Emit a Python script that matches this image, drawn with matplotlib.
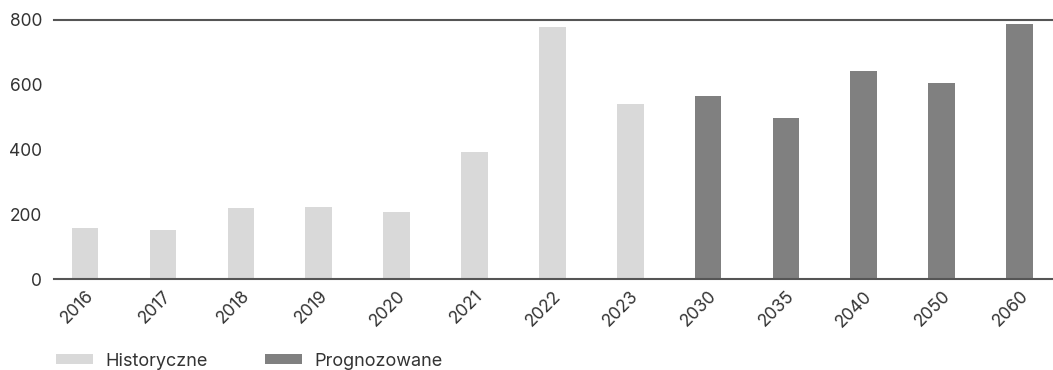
import matplotlib
matplotlib.use("Agg")
import matplotlib.pyplot as plt
from matplotlib.patches import Patch

plt.rcParams['font.family'] = ['Inter', 'DejaVu Sans']

years = ["2016", "2017", "2018", "2019", "2020", "2021", "2022", "2023",
         "2030", "2035", "2040", "2050", "2060"]
values = [157, 153, 219, 223, 207, 392, 777, 539,
          565, 498, 641, 605, 786]
is_forecast = [False] * 8 + [True] * 5

label_hist = "Historyczne"
label_fore = "Prognozowane"
color_hist = "#d9d9d9"
color_fore = "#808080"
text_color = "#333333"
line_color = "#555555"

fig = plt.figure(figsize=(10.53, 3.70), dpi=100)
ax = fig.add_axes([54 / 1053, 1 - 279.3 / 370, 1 - 54 / 1053, 259.6 / 370])

x = list(range(len(years)))
colors = [color_fore if f else color_hist for f in is_forecast]
ax.bar(x, values, width=0.343, color=colors, edgecolor="none")

ax.set_xlim(-0.40, len(years) - 1 + 0.43)
ax.set_ylim(0, 800)
ax.set_yticks([0, 200, 400, 600, 800])
ax.set_xticks(x)
ax.set_xticklabels(years, rotation=45, ha="right", va="top",
                   rotation_mode="anchor", fontsize=12.5)

for s in ("left", "right"):
    ax.spines[s].set_visible(False)
for s in ("top", "bottom"):
    ax.spines[s].set_color(line_color)
    ax.spines[s].set_linewidth(1.5)

ax.tick_params(axis="both", length=0, colors=text_color)
ax.tick_params(axis="y", pad=8.5, labelsize=12.5)
ax.tick_params(axis="x", pad=6)

handles = [Patch(facecolor=color_hist, edgecolor="none", label=label_hist),
           Patch(facecolor=color_fore, edgecolor="none", label=label_fore)]
fig.legend(handles=handles, loc="center left",
           bbox_to_anchor=(56 / 1053, 1 - 361 / 370), ncol=2, frameon=False,
           fontsize=13, handlelength=2.05, handleheight=0.42,
           handletextpad=0.67, columnspacing=3.2, labelcolor=text_color,
           borderaxespad=0, borderpad=0)

fig.savefig("out.png", dpi=100)
